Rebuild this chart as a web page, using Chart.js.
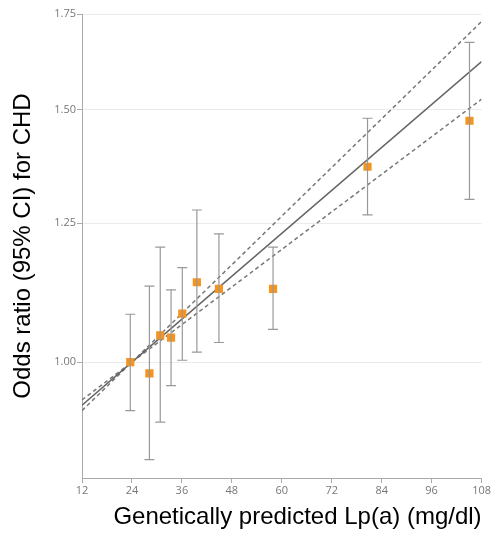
<!DOCTYPE html>
<html>
<head>
<meta charset="utf-8">
<script src="https://cdn.jsdelivr.net/npm/chart.js@4"></script>
<style>
  html, body { margin: 0; padding: 0; background: #fff; }
  #box { width: 492px; height: 537px; }
</style>
</head>
<body>
<div id="box"><canvas id="grafico"></canvas></div>
<script>
// Lp(a) groups
const lpa = [23.6, 28.2, 30.8, 33.4, 36.1, 39.6, 44.9, 57.9, 80.6, 105.1];
const oddsRatio = [1.00, 0.982, 1.044, 1.040, 1.081, 1.137, 1.125, 1.125, 1.369, 1.474];
const ciLow = [0.925, 0.855, 0.908, 0.963, 1.003, 1.016, 1.032, 1.054, 1.267, 1.299];
const ciHigh = [1.080, 1.130, 1.203, 1.123, 1.164, 1.277, 1.229, 1.203, 1.480, 1.672];

// fitted line and its 95% CI
const fitX = [12, 24, 108];
const fitOR = [0.933, 1.00, 1.621];
const fitUpper = [0.941, 1.00, 1.729];
const fitLower = [0.925, 1.00, 1.526];

const yTicks = [1.00, 1.25, 1.50, 1.75];
const xTicks = [12, 24, 36, 48, 60, 72, 84, 96, 108];

const pontos = (xs, ys) => xs.map((x, i) => ({ x: x, y: ys[i] }));

// barras de erro
const errorBars = {
  id: 'errorBars',
  afterDatasetsDraw(chart) {
    const ctx = chart.ctx;
    const x = chart.scales.x, y = chart.scales.y;
    ctx.save();
    ctx.strokeStyle = '#999';
    ctx.lineWidth = 1.2;
    lpa.forEach((v, i) => {
      const px = x.getPixelForValue(v);
      const top = y.getPixelForValue(ciHigh[i]);
      const bot = y.getPixelForValue(ciLow[i]);
      ctx.beginPath();
      ctx.moveTo(px, top); ctx.lineTo(px, bot);
      ctx.moveTo(px - 5, top); ctx.lineTo(px + 5, top);
      ctx.moveTo(px - 5, bot); ctx.lineTo(px + 5, bot);
      ctx.stroke();
    });
    ctx.restore();
  }
};

const tickFont = { family: '"Open Sans", sans-serif', size: 11 };
const titleFont = { family: '"Liberation Sans", Arial, sans-serif', size: 24 };

new Chart(document.getElementById('grafico'), {
  type: 'scatter',
  data: {
    datasets: [
      {
        type: 'line', data: pontos(fitX, fitUpper),
        borderColor: '#777', borderWidth: 1.5, borderDash: [4, 3],
        pointRadius: 0, fill: false, order: 3
      },
      {
        type: 'line', data: pontos(fitX, fitLower),
        borderColor: '#777', borderWidth: 1.5, borderDash: [4, 3],
        pointRadius: 0, fill: false, order: 3
      },
      {
        type: 'line', data: pontos(fitX, fitOR),
        borderColor: '#666', borderWidth: 1.5,
        pointRadius: 0, fill: false, order: 2
      },
      {
        data: pontos(lpa, oddsRatio),
        pointStyle: 'rect', pointRadius: 5.8,
        backgroundColor: '#f7941d', borderColor: '#f7941d', borderWidth: 0,
        order: 0
      }
    ]
  },
  options: {
    responsive: true,
    maintainAspectRatio: false,
    animation: false,
    layout: { padding: { top: 14, right: 10, left: 0, bottom: 0 } },
    plugins: { legend: { display: false }, tooltip: { enabled: false } },
    scales: {
      x: {
        type: 'linear', min: 12, max: 108,
        afterBuildTicks: s => { s.ticks = xTicks.map(v => ({ value: v })); },
        afterFit: s => { s.height = 59; },
        ticks: { color: '#777', font: tickFont, padding: 1, maxRotation: 0 },
        grid: { drawOnChartArea: false, tickLength: 5, color: '#aaa' },
        border: { color: '#aaa' },
        title: {
          display: true, text: 'Genetically predicted Lp(a) (mg/dl)',
          align: 'end', color: '#000', font: titleFont, padding: { top: 0, bottom: 5 }
        }
      },
      y: {
        type: 'logarithmic', min: 0.83, max: 1.75,
        afterBuildTicks: s => { s.ticks = yTicks.map(v => ({ value: v })); },
        afterFit: s => { s.width = 82; },
        ticks: { color: '#777', font: tickFont, padding: 1, callback: v => Number(v).toFixed(2) },
        grid: { color: '#ebebeb', tickColor: '#aaa', tickLength: 5 },
        border: { color: '#aaa' },
        title: {
          display: true, text: 'Odds ratio (95% CI) for CHD',
          color: '#000', font: titleFont, padding: { top: 9, bottom: 0 }
        }
      }
    }
  },
  plugins: [errorBars]
});
</script>
</body>
</html>
